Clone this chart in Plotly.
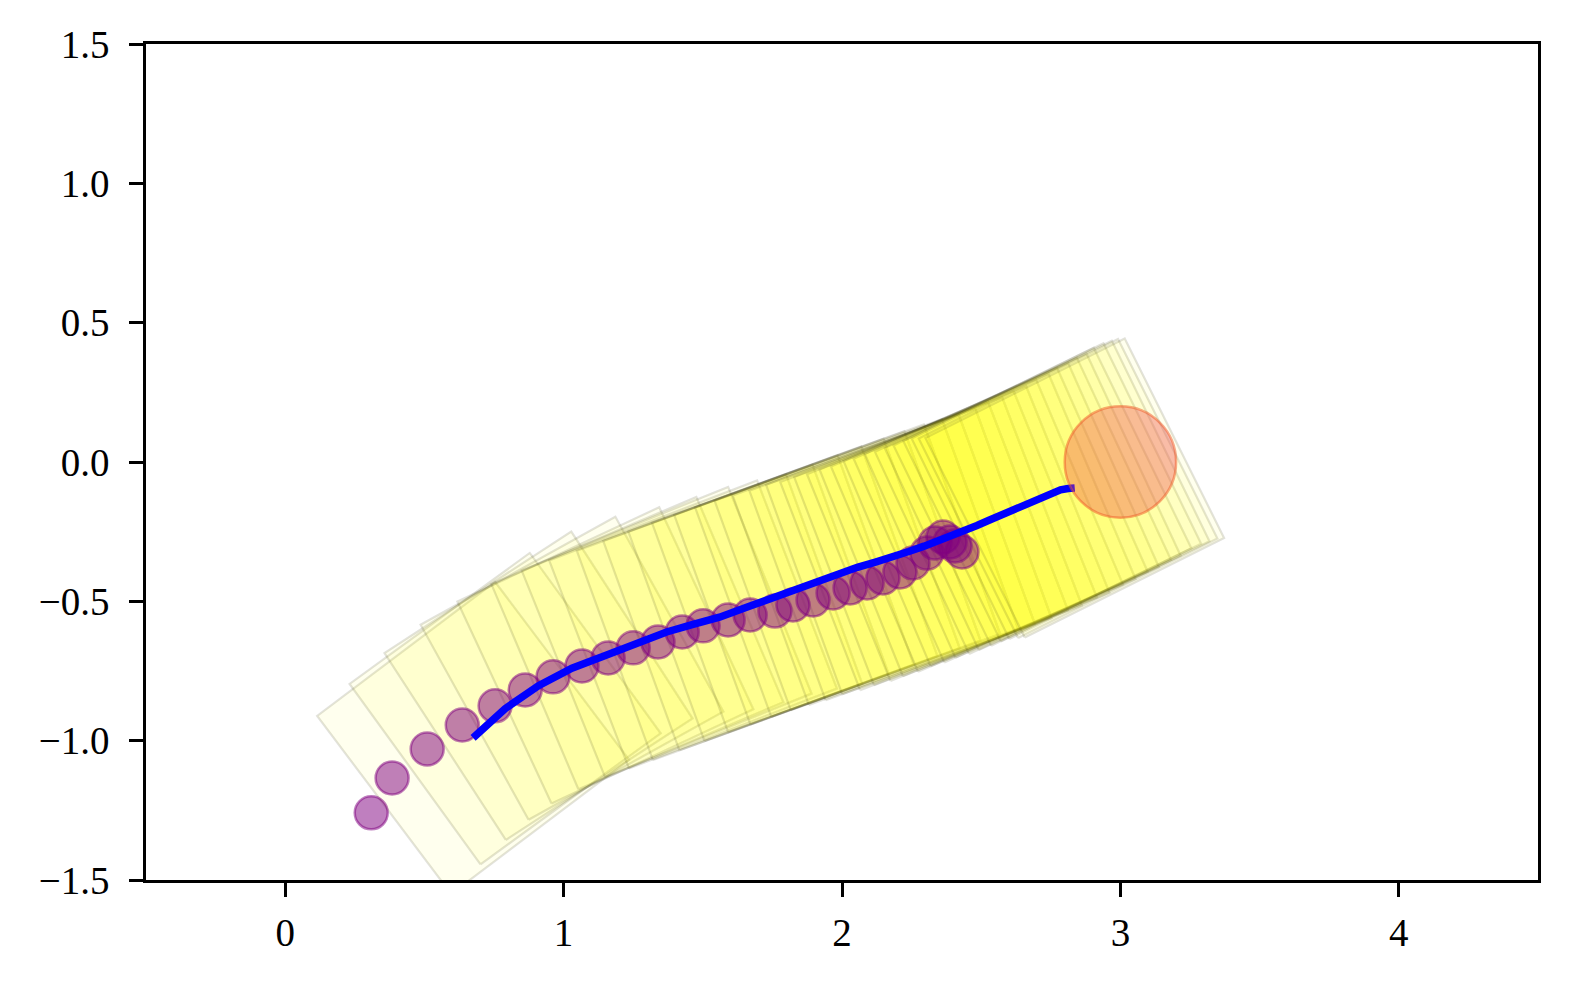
"""
Robot footprint sweep towards a goal: rotated square footprints along the
trajectory, the tracked object positions (purple) and the goal region.
"""
import numpy as np
import plotly.graph_objects as go

# Robot poses (centre x, centre y, heading in degrees)
robot_x = [0.675, 0.790, 0.910, 1.030, 1.150, 1.265, 1.370, 1.465, 1.560, 1.655,
           1.745, 1.830, 1.910, 1.985, 2.055, 2.120, 2.180, 2.240, 2.295, 2.345,
           2.395, 2.440, 2.485, 2.530, 2.570, 2.610, 2.650, 2.685, 2.720, 2.755,
           2.785, 2.812, 2.836]
robot_y = [-0.990, -0.885, -0.803, -0.740, -0.694, -0.650, -0.610, -0.583, -0.557, -0.522,
           -0.488, -0.457, -0.429, -0.402, -0.378, -0.359, -0.342, -0.321, -0.302, -0.284,
           -0.265, -0.248, -0.228, -0.208, -0.191, -0.174, -0.157, -0.143, -0.125, -0.109,
           -0.100, -0.095, -0.093]
robot_theta = [37, 36, 33, 29, 25, 23, 22, 21, 20, 20,
               20, 20, 20, 20, 20, 20, 20, 20, 21, 21,
               22, 22, 23, 23, 24, 24, 25, 25, 26, 26,
               26, 26.5, 26.5]
robot_size = 0.8

# Object positions (purple markers)
object_x = [0.309, 0.384, 0.510, 0.636, 0.754, 0.862, 0.962, 1.066, 1.160, 1.250,
            1.339, 1.426, 1.501, 1.591, 1.670, 1.759, 1.824, 1.896, 1.968, 2.029,
            2.090, 2.147, 2.208, 2.255, 2.305, 2.334, 2.363, 2.388, 2.406, 2.431]
object_y = [-1.259, -1.134, -1.030, -0.944, -0.875, -0.818, -0.771, -0.732, -0.703, -0.667,
            -0.646, -0.610, -0.588, -0.567, -0.549, -0.535, -0.513, -0.495, -0.470, -0.452,
            -0.434, -0.416, -0.395, -0.362, -0.327, -0.291, -0.269, -0.287, -0.301, -0.323]

# Goal region
goal_x = 3.0
goal_y = 0.0
goal_r = 0.2

x_ticks = [0, 1, 2, 3, 4]
y_ticks = [-1.5, -1.0, -0.5, 0.0, 0.5, 1.0, 1.5]
y_tick_text = ["\u22121.5", "\u22121.0", "\u22120.5", "0.0", "0.5", "1.0", "1.5"]

FONT = "Liberation Serif"

fig = go.Figure()

# Footprints: one translucent square per pose so the alpha stacks up
h = robot_size / 2
local = np.array([[-h, -h], [h, -h], [h, h], [-h, h], [-h, -h]])
for cx, cy, th in zip(robot_x, robot_y, robot_theta):
    t = np.radians(th)
    rot = np.array([[np.cos(t), -np.sin(t)], [np.sin(t), np.cos(t)]])
    pts = local @ rot.T
    fig.add_trace(go.Scatter(
        x=cx + pts[:, 0], y=cy + pts[:, 1],
        mode="lines", fill="toself",
        fillcolor="rgba(255,255,0,0.065)",
        line=dict(color="rgba(60,60,20,0.15)", width=2.2),
        hoverinfo="skip", showlegend=False,
    ))

# Object positions
fig.add_trace(go.Scatter(
    x=object_x, y=object_y, mode="markers",
    marker=dict(size=33, color="rgba(128,0,128,0.5)",
                line=dict(color="rgba(128,0,128,0.5)", width=2.5)),
    showlegend=False,
))

# Robot centre trajectory
fig.add_trace(go.Scatter(
    x=robot_x, y=robot_y, mode="lines",
    line=dict(color="#0000ff", width=7.5),
    showlegend=False,
))

# Goal
fig.add_shape(
    type="circle", xref="x", yref="y",
    x0=goal_x - goal_r, x1=goal_x + goal_r,
    y0=goal_y - goal_r, y1=goal_y + goal_r,
    fillcolor="rgba(240,80,80,0.38)",
    line=dict(color="rgba(240,90,40,0.5)", width=2.5),
    layer="above",
)

axis_common = dict(
    showgrid=False, zeroline=False,
    showline=True, linecolor="black", linewidth=2.5, mirror=True,
    ticks="outside", ticklen=14, tickwidth=2.5, tickcolor="black",
    tickfont=dict(family=FONT, size=39, color="black"),
)

# the page body adds an 8px offset, so margins are trimmed by that much
fig.update_layout(
    width=1562, height=974,
    margin=dict(l=138, r=32, t=36, b=102),
    paper_bgcolor="white", plot_bgcolor="white",
    xaxis=dict(range=[-0.5, 4.5], tickvals=x_ticks, ticklabelstandoff=2, **axis_common),
    yaxis=dict(range=[-1.5, 1.5], tickvals=y_ticks, ticktext=y_tick_text,
               ticklabelstandoff=12, **axis_common),
    showlegend=False,
)

fig.write_html("out.html")
